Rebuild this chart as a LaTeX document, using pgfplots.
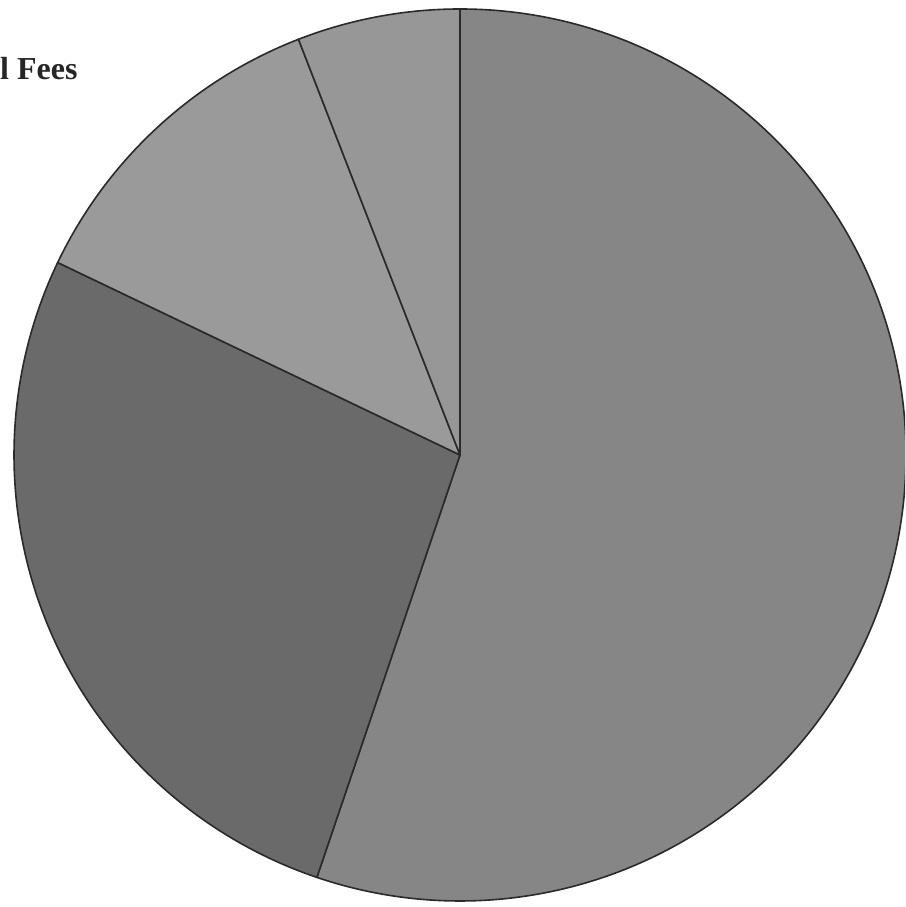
\documentclass[border=0pt]{standalone}
\usepackage{fontspec}
\setmainfont{Liberation Serif}
\usepackage{pgfplots}
\usepackage{pgfplotstable}
\pgfplotsset{compat=1.18}
\definecolor{pie0}{HTML}{868686}
\definecolor{pie1}{HTML}{6A6A6A}
\definecolor{pie2}{HTML}{9A9A9A}
\definecolor{pie3}{HTML}{979797}
\definecolor{edge}{HTML}{2A2A2A}
\pgfplotstableread{
label value
A 55.2
B 26.9
C 12.0
D 5.9
}\piedata
\xdef\total{0}%
\pgfplotstableforeachcolumnelement{value}\of\piedata\as\v{%
  \pgfmathsetmacro\t{\total+\v}\xdef\total{\t}}%
\xdef\cum{0}%
\pgfplotstableforeachcolumnelement{value}\of\piedata\as\v{%
  \pgfmathsetmacro\a{90-360*(\cum/\total)}%
  \expandafter\xdef\csname start\pgfplotstablerow\endcsname{\a}%
  \pgfmathsetmacro\c{\cum+\v}\xdef\cum{\c}%
  \pgfmathsetmacro\b{90-360*(\cum/\total)}%
  \expandafter\xdef\csname end\pgfplotstablerow\endcsname{\b}}%
\begin{document}
\begin{tikzpicture}
\begin{axis}[hide axis, scale only axis, width=905pt, height=907pt,
  xmin=0, xmax=905, ymin=0, ymax=907, clip=true]
\addplot[draw=none] coordinates {(0,0) (905,907)};
\pgfplotsinvokeforeach{0,1,2,3}{%
  \fill[fill=pie#1, draw=edge, line width=1.6pt, line join=round]
    (axis cs:460,452) -- ++(\csname start#1\endcsname:446pt)
    arc[start angle=\csname start#1\endcsname, end angle=\csname end#1\endcsname, radius=446pt] -- cycle;
}
\node[anchor=base west, inner sep=0pt, text=black!85,
  font=\bfseries\fontsize{32}{32}\selectfont] at (axis cs:0,827) {l Fees};
\end{axis}
\pgfresetboundingbox
\useasboundingbox (0,0) rectangle (905pt,907pt);
\end{tikzpicture}%
\end{document}
